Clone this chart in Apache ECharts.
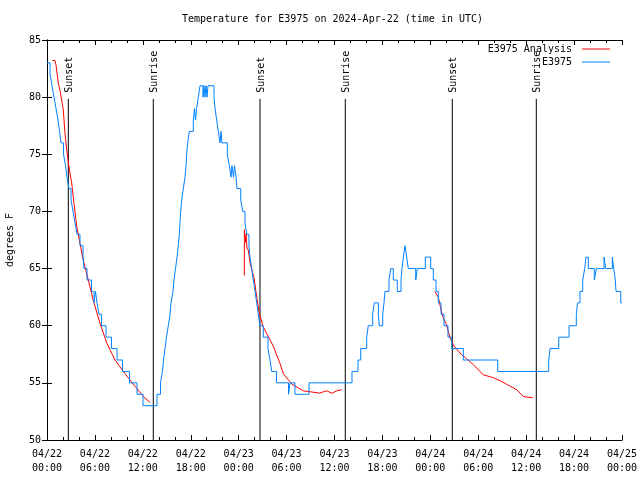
<!DOCTYPE html>
<html>
<head>
<meta charset="utf-8">
<script src="https://cdn.jsdelivr.net/npm/echarts/dist/echarts.min.js"></script>
<style>html,body{margin:0;padding:0;background:#fff;}#c{width:640px;height:480px;}</style>
</head>
<body>
<div id="c"></div>
<script>
// ---- data (hours since 04/22 00:00 UTC, degrees F) ----
const xTickLabels = ['04/22\n00:00','04/22\n06:00','04/22\n12:00','04/22\n18:00','04/23\n00:00','04/23\n06:00','04/23\n12:00','04/23\n18:00','04/24\n00:00','04/24\n06:00','04/24\n12:00','04/24\n18:00','04/25\n00:00'];
const yTicks = [50,55,60,65,70,75,80,85];

const sunHours  = [2.67, 13.31, 26.67, 37.35, 50.75, 61.27];
const sunLabels = ['Sunset','Sunrise','Sunset','Sunrise','Sunset','Sunrise'];

// station observations (value held until next change point)
const obsHours = [
  0.00,0.38,0.63,0.88,1.13,1.38,1.57,1.75,2.07,2.32,
  2.50,2.75,3.01,3.26,3.51,3.76,4.13,4.51,4.63,5.01,
  5.57,5.89,6.07,6.26,6.51,6.82,7.39,8.08,8.77,9.45,
  10.33,11.27,12.02,13.77,14.21,14.46,14.59,14.78,14.96,15.19,
  15.40,15.53,15.78,15.90,16.09,16.28,16.44,16.57,16.65,16.74,
  16.87,17.07,17.28,17.41,17.49,17.62,17.82,18.32,18.47,18.60,
  18.72,18.95,19.16,19.53,19.66,19.78,19.91,20.04,20.16,20.91,
  21.04,21.25,21.45,21.66,21.79,21.91,22.58,22.83,23.04,23.16,
  23.35,23.48,23.67,23.79,24.26,24.51,24.79,25.01,25.29,25.42,
  25.63,25.83,26.05,26.26,26.46,26.67,27.08,27.67,27.92,28.14,
  28.74,30.24,30.43,31.05,32.81,38.19,38.94,39.28,40.03,40.23,
  40.78,40.98,41.49,41.61,42.04,42.20,42.32,42.82,43.04,43.36,
  43.86,44.33,44.45,44.62,44.83,45.04,45.24,46.17,46.37,47.37,
  48.05,48.37,48.71,49.00,49.34,49.71,50.21,50.68,52.13,56.44,
  62.82,62.99,64.08,65.37,66.28,66.43,66.74,67.08,67.33,67.49,
  67.78,68.53,68.78,69.75,69.96,70.79,70.96,71.16,71.25,71.84,
  72.00
];
const obsTemps = [
  83,82,81,80,79,78,77,76,75,74,
  73,72,71,70,69,68,67,66,65,64,
  63,62,63,62,61,60,59,58,57,56,
  55,54,53,54,55,56,57,58,59,60,
  61,62,63,64,65,66,67,68,69,70,
  71,72,73,74,75,76,77,78,79,78,
  79,80,81,80,81,80,81,80,81,80,
  79,78,77,76,77,76,75,74,73,74,
  73,74,73,72,71,70,69,68,67,66,
  65,64,63,62,61,60,59,58,57,56,
  55,54,55,54,55,56,57,58,59,60,
  61,62,61,60,61,62,63,64,65,64,
  63,64,65,66,67,66,65,64,65,66,
  65,64,63,62,61,60,59,58,57,56,
  57,58,59,60,61,62,63,64,65,66,
  65,64,65,66,65,66,65,64,63,62,
  62
];

// analysis (null = gap)
const anaHours = [
  0.66,1.00,1.13,1.42,1.63,2.04,2.25,2.47,2.75,3.09,
  3.38,3.72,4.13,4.55,5.17,5.80,6.64,7.48,8.51,9.77,
  11.02,12.06,12.90, 12.91,
  24.71,24.72,24.85,24.93,25.04,25.21,25.42,25.92,26.26,26.58,
  27.08,28.34,29.18,29.59,30.64,32.09,33.18,34.10,35.02,35.65,
  36.28,36.90, 36.91,
  48.58,49.00,49.21,49.55,49.96,50.46,50.88,51.72,52.55,53.38,
  54.63,55.68,56.72,57.76,58.82,59.64,60.82
];
const anaTemps = [
  83.2,83.2,82.8,81.2,80.6,78.9,76.8,75.4,73.9,72.5,
  70.7,68.7,67.2,65.7,64.0,62.2,60.2,58.5,57.0,55.8,
  54.7,53.8,53.3, null,
  64.4,68.4,67.3,68.0,66.8,66.6,65.5,64.2,62.5,61.1,
  59.9,58.2,56.7,55.8,54.9,54.3,54.2,54.1,54.3,54.1,
  54.3,54.4, null,
  63.0,62.5,61.8,60.8,60.2,59.0,58.3,57.6,57.1,56.6,
  55.7,55.5,55.2,54.8,54.4,53.8,53.7
];

// ---- chart ----
const MONO = '"DejaVu Sans Mono", "Liberation Mono", monospace';
const SUN_TOP = 79.85;
const txt = {fontFamily: MONO, fontSize: 10, color: '#000'};
const chart = echarts.init(document.getElementById('c'), null, {renderer: 'canvas'});

const obsData = obsHours.map((h, i) => [h, obsTemps[i]]);
const anaData = anaHours.map((h, i) => [h, anaTemps[i]]);
const sunData = sunHours.map(h => [h, 50]);

const tickCommon = {inside: true, length: 5, lineStyle: {color: '#000', width: 1}};
const minorCommon = {show: true, splitNumber: 3, length: 3, lineStyle: {color: '#000', width: 1}};

chart.setOption({
  animation: false,
  backgroundColor: '#fff',
  title: {
    text: 'Temperature for E3975 on 2024-Apr-22 (time in UTC)',
    left: 182, top: 14, padding: 0,
    textStyle: Object.assign({fontWeight: 'normal'}, txt)
  },
  legend: [
    {data: ['E3975 Analysis'], right: 30, top: 44, orient: 'vertical', align: 'right', icon: 'rect',
     itemWidth: 28, itemHeight: 1, padding: 0, selectedMode: false,
     textStyle: Object.assign({padding: [0, 5, 0, 0]}, txt)},
    {data: ['E3975'], right: 30, top: 57, orient: 'vertical', align: 'right', icon: 'rect',
     itemWidth: 28, itemHeight: 1, padding: 0, selectedMode: false,
     textStyle: Object.assign({padding: [0, 5, 0, 0]}, txt)}
  ],
  grid: {left: 47, right: 18, top: 40, bottom: 40, show: false, containLabel: false, outerBoundsMode: 'none'},
  xAxis: [
    {type: 'value', min: 0, max: 72, interval: 6, position: 'bottom',
     axisLine: {lineStyle: {color: '#000', width: 1}},
     axisTick: tickCommon, minorTick: minorCommon, splitLine: {show: false},
     axisLabel: Object.assign({margin: 7, lineHeight: 14,
       formatter: v => xTickLabels[Math.round(v / 6)]}, txt)},
    {type: 'value', min: 0, max: 72, interval: 6, position: 'top',
     axisLine: {lineStyle: {color: '#000', width: 1}},
     axisTick: tickCommon, minorTick: minorCommon, splitLine: {show: false},
     axisLabel: {show: false}}
  ],
  yAxis: [
    {type: 'value', min: 50, max: 85, interval: 5, position: 'left',
     name: 'degrees F', nameLocation: 'middle', nameGap: 32, nameTextStyle: txt,
     axisLine: {show: true, lineStyle: {color: '#000', width: 1}},
     axisTick: tickCommon, splitLine: {show: false},
     axisLabel: Object.assign({margin: 6, formatter: v => String(yTicks[Math.round((v - 50) / 5)])}, txt)},
    {type: 'value', min: 50, max: 85, interval: 5, position: 'right',
     axisLine: {show: true, lineStyle: {color: '#000', width: 1}},
     axisTick: tickCommon, splitLine: {show: false}, axisLabel: {show: false}}
  ],
  series: [
    {
      type: 'custom', name: 'sun', z: 1, silent: true,
      data: sunData,
      renderItem: function (params, api) {
        const h = api.value(0);
        const p0 = api.coord([h, 50]);
        const p1 = api.coord([h, SUN_TOP]);
        return {
          type: 'group',
          children: [
            {type: 'line', shape: {x1: p0[0], y1: p0[1], x2: p1[0], y2: p1[1]},
             style: {stroke: '#000', lineWidth: 1}},
            {type: 'text', x: p1[0] + 1, y: p1[1] - 6, rotation: Math.PI / 2,
             style: {text: sunLabels[params.dataIndex], fill: '#000',
                     font: '10px ' + MONO, align: 'left', verticalAlign: 'middle'}}
          ]
        };
      }
    },
    {
      type: 'line', name: 'E3975 Analysis', z: 2,
      data: anaData, showSymbol: false, connectNulls: false,
      lineStyle: {color: '#ff0000', width: 1}, itemStyle: {color: '#ff0000'}
    },
    {
      type: 'line', name: 'E3975', z: 3,
      data: obsData, step: 'end', showSymbol: false,
      lineStyle: {color: '#0080ff', width: 1}, itemStyle: {color: '#0080ff'}
    }
  ]
});
</script>
</body>
</html>
